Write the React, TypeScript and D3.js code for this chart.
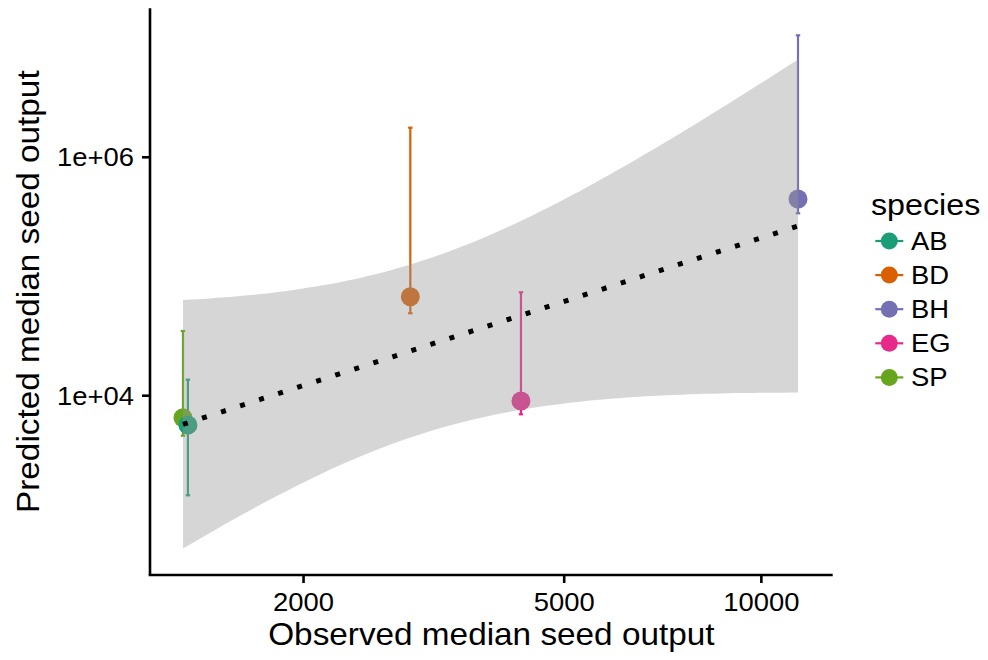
import React from "react";
import * as d3 from "d3";

// ---- data ----
const species = ["AB", "BD", "BH", "EG", "SP"];
const speciesColors = ["#1B9E77", "#D95F02", "#7570B3", "#E7298A", "#66A61E"];
const observed = [1332, 2911, 11374, 4295, 1309];
const predicted = [5679, 67700, 446900, 9028, 6538];
const predLow = [1460, 49130, 339000, 6982, 4617];
const predHigh = [13620, 1772000, 10560000, 73700, 34900];
const xTicks = [2000, 5000, 10000];
const xTickLabels = ["2000", "5000", "10000"];
const yTicks = [1e4, 1e6];
const yTickLabels = ["1e+04", "1e+06"];
const drawOrder = [4, 0, 1, 2, 3];

const FONT = "'Liberation Sans', Arial, Helvetica, sans-serif";
const T_975_DF3 = 3.182446; // Student t quantile, df = n - 2 = 3

const W = 988;
const H = 660;
const P = { left: 150, right: 832.7, top: 8.3, bottom: 575 };

const x = d3.scaleLog().domain([10 ** 3.0666, 10 ** 4.1089]).range([P.left, P.right]);
const y = d3.scaleLog().domain([10 ** 2.4958, 10 ** 7.25]).range([P.bottom, P.top]);

// linear model on log10 scales (as geom_smooth(method = "lm") on log axes)
function fitBand() {
  const lx = observed.map(Math.log10);
  const ly = predicted.map(Math.log10);
  const n = lx.length;
  const mx = d3.mean(lx) as number;
  const my = d3.mean(ly) as number;
  const sxx = d3.sum(lx, (v) => (v - mx) ** 2);
  const sxy = d3.sum(lx, (v, i) => (v - mx) * (ly[i] - my));
  const b = sxy / sxx;
  const a = my - b * mx;
  const ssr = d3.sum(lx, (v, i) => (ly[i] - (a + b * v)) ** 2);
  const s = Math.sqrt(ssr / (n - 2));
  const [lo, hi] = d3.extent(lx) as [number, number];
  const pts = d3.range(80).map((k) => {
    const xv = lo + ((hi - lo) * k) / 79;
    const f = a + b * xv;
    const se = s * Math.sqrt(1 / n + (xv - mx) ** 2 / sxx);
    return { x: 10 ** xv, fit: 10 ** f, lo: 10 ** (f - T_975_DF3 * se), hi: 10 ** (f + T_975_DF3 * se) };
  });
  return pts;
}

type TxtProps = {
  x: number;
  y: number;
  size: number;
  anchor?: string;
  rotate?: number;
  sx?: number;
  children: React.ReactNode;
};
function Txt({ x, y, size, anchor = "start", rotate = 0, sx = 1.075, children }: TxtProps) {
  return (
    <text
      transform={`translate(${x},${y}) rotate(${rotate}) scale(${sx},1)`}
      textAnchor={anchor}
      fontSize={size}
      fontFamily={FONT}
      fill="#000"
    >
      {children}
    </text>
  );
}

export default function App() {
  const band = fitBand();
  const area = d3
    .area<{ x: number; lo: number; hi: number }>()
    .x((d) => x(d.x))
    .y0((d) => y(d.lo))
    .y1((d) => y(d.hi));
  const line = d3
    .line<{ x: number; fit: number }>()
    .x((d) => x(d.x))
    .y((d) => y(d.fit));

  const legendX = 889.3;
  const legendY0 = 241;
  const legendStep = 34.1;

  return (
    <svg
      width={W}
      height={H}
      style={{ position: "absolute", left: 0, top: 0, background: "#fff" }}
    >
      <rect width={W} height={H} fill="#fff" />

      {/* error bars */}
      {drawOrder.map((i) => {
        const cx = x(observed[i]);
        return (
          <g key={"eb" + i} stroke={speciesColors[i]} strokeWidth={2.2}>
            <line x1={cx} x2={cx} y1={y(predLow[i])} y2={y(predHigh[i])} />
            <line x1={cx - 2.2} x2={cx + 2.2} y1={y(predLow[i])} y2={y(predLow[i])} />
            <line x1={cx - 2.2} x2={cx + 2.2} y1={y(predHigh[i])} y2={y(predHigh[i])} />
          </g>
        );
      })}

      {/* points */}
      {drawOrder.map((i) => (
        <circle
          key={"pt" + i}
          cx={x(observed[i])}
          cy={y(predicted[i])}
          r={9.5}
          fill={speciesColors[i]}
        />
      ))}

      {/* smooth ribbon + line on top */}
      <path d={area(band) || ""} fill="#999999" fillOpacity={0.4} stroke="none" />
      <path
        d={line(band) || ""}
        fill="none"
        stroke="#000"
        strokeWidth={5}
        strokeDasharray="5 15"
        strokeLinecap="butt"
      />

      {/* axes */}
      <line x1={P.left} x2={P.left} y1={P.top} y2={P.bottom} stroke="#000" strokeWidth={2.6} />
      <line x1={P.left - 1.3} x2={P.right} y1={P.bottom} y2={P.bottom} stroke="#000" strokeWidth={2.6} />
      {xTicks.map((t, i) => (
        <g key={"xt" + t}>
          <line x1={x(t)} x2={x(t)} y1={P.bottom} y2={P.bottom + 8} stroke="#000" strokeWidth={2.6} />
          <Txt x={x(t)} y={611} size={25.5} anchor="middle">
            {xTickLabels[i]}
          </Txt>
        </g>
      ))}
      {yTicks.map((t, i) => (
        <g key={"yt" + t}>
          <line x1={P.left - 8} x2={P.left} y1={y(t)} y2={y(t)} stroke="#000" strokeWidth={2.6} />
          <Txt x={134} y={y(t) + 9} size={25.5} anchor="end">
            {yTickLabels[i]}
          </Txt>
        </g>
      ))}

      {/* axis titles */}
      <Txt x={(P.left + P.right) / 2} y={645} size={31} anchor="middle">
        Observed median seed output
      </Txt>
      <Txt x={39} y={(P.top + P.bottom) / 2} size={31} anchor="middle" rotate={-90}>
        Predicted median seed output
      </Txt>

      {/* legend */}
      <Txt x={871} y={215} size={30}>
        species
      </Txt>
      {species.map((s, i) => {
        const cy = legendY0 + i * legendStep;
        return (
          <g key={"lg" + s}>
            <line x1={legendX - 14} x2={legendX + 14} y1={cy} y2={cy} stroke={speciesColors[i]} strokeWidth={2.2} />
            <circle cx={legendX} cy={cy} r={8.5} fill={speciesColors[i]} />
            <Txt x={911} y={cy + 9} size={25.5}>
              {s}
            </Txt>
          </g>
        );
      })}
    </svg>
  );
}
